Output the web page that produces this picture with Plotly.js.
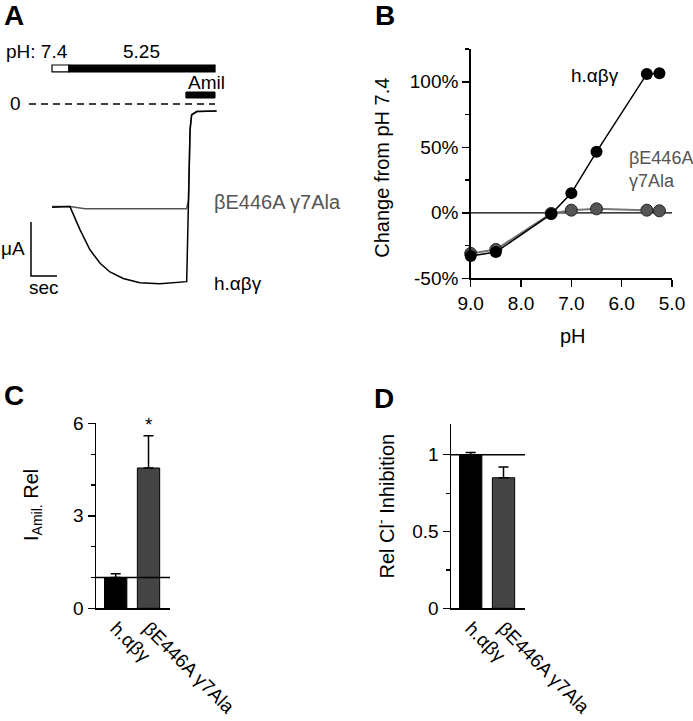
<!DOCTYPE html>
<html><head><meta charset="utf-8">
<script src="https://cdn.plot.ly/plotly-3.0.1.min.js"></script>
<style>html,body{margin:0;padding:0;background:#fff}</style>
</head><body>
<div id="chart" style="width:693px;height:721px"></div>
<script>
// ---------- Panel A: current traces (time in sec, current in µA, 0 = zero-current level)
const wtTime = [0, 0.69, 1.08, 1.46, 1.85, 2.23, 2.74, 3.38, 4.15, 5.18, 5.25, 5.31, 5.37, 5.57, 6.33];
const wtCurrent = [-1.91, -1.90, -2.33, -2.70, -2.95, -3.11, -3.23, -3.31, -3.33, -3.29, -1.78, -0.48, -0.20, -0.14, -0.13];
const mutTime = [0, 0.69, 1.27, 2.62, 5.18, 5.25, 5.31, 5.37, 5.57, 6.33];
const mutCurrent = [-1.90, -1.90, -1.94, -1.94, -1.94, -1.78, -0.48, -0.20, -0.14, -0.13];
const phSwitchTimes = [0, 0.65, 6.27];   // pH 7.4 then pH 5.25
const phLabels = ['pH: 7.4', '5.25'];
const amilWindow = [5.15, 6.27];

// ---------- Panel B: pH dependence
const phValues = [9.0, 8.5, 7.4, 7.0, 6.5, 5.5, 5.25];
const changeWT = [-33, -30, -1, 15, 46.5, 106, 106.5];
const changeMut = [-31, -28, -0.5, 2, 3, 2, 1.5];
const bXTicks = [9, 8, 7, 6, 5];
const bXTickText = ['9.0', '8.0', '7.0', '6.0', '5.0'];
const bYTicks = [-50, 0, 50, 100];
const bYTickText = ['-50%', '0%', '50%', '100%'];

// ---------- Panels C & D: bar charts
const groups = ['h.\u03b1\u03b2\u03b3', '\u03b2E446A \u03b37Ala'];
const iAmilRel = [1.0, 4.55];
const iAmilErr = [0.12, 1.05];
const clInhib = [1.0, 0.85];
const clInhibErr = [0.015, 0.07];
const barColors = ['#000000', '#444444'];
const cYTicks = [0, 3, 6];
const dYTicks = [0, 0.5, 1];
const dYTickText = ['0', '0.5', '1'];

const W = 693, H = 721;
const PX = x => x / W, PY = y => 1 - y / H;
const FONT = 'Liberation Sans, Arial, Helvetica, sans-serif';
const GRAY = '#555555';

const traces = [
  {x: mutTime, y: mutCurrent, xaxis: 'x', yaxis: 'y', mode: 'lines', line: {color: GRAY, width: 1.5}, hoverinfo: 'skip'},
  {x: wtTime, y: wtCurrent, xaxis: 'x', yaxis: 'y', mode: 'lines', line: {color: '#000', width: 1.5}, hoverinfo: 'skip'},
  {x: phValues, y: changeMut, xaxis: 'x2', yaxis: 'y2', mode: 'lines+markers', cliponaxis: false,
   line: {color: '#777', width: 2}, marker: {size: 12, color: GRAY, line: {color: '#222', width: 1}}},
  {x: phValues, y: changeWT, xaxis: 'x2', yaxis: 'y2', mode: 'lines+markers', cliponaxis: false,
   line: {color: '#000', width: 1.5}, marker: {size: 12, color: '#000'}},
  {x: groups, y: iAmilRel, type: 'bar', xaxis: 'x3', yaxis: 'y3', width: 0.68,
   marker: {color: barColors, line: {color: '#000', width: 1}},
   error_y: {type: 'data', array: iAmilErr, arrayminus: [0, 0], symmetric: false, color: '#000', thickness: 1.5, width: 5}},
  {x: groups, y: clInhib, type: 'bar', xaxis: 'x4', yaxis: 'y4', width: 0.68,
   marker: {color: barColors, line: {color: '#000', width: 1}},
   error_y: {type: 'data', array: clInhibErr, arrayminus: [0, 0], symmetric: false, color: '#000', thickness: 1.5, width: 5}}
];

const hidden = {showline: false, showgrid: false, zeroline: false, showticklabels: false, ticks: '', fixedrange: true};
const axBase = {showline: true, linecolor: '#000', linewidth: 1.5, showgrid: false, zeroline: false, fixedrange: true,
  ticks: 'outside', ticklen: 7, tickwidth: 1.5, tickcolor: '#000', tickfont: {family: FONT, size: 19, color: '#000'}};

function note(o) {
  return Object.assign({showarrow: false, xanchor: 'center', yanchor: 'middle'}, o);
}

const layout = {
  width: W, height: H, margin: {l: 0, r: 0, t: 0, b: 0}, showlegend: false,
  paper_bgcolor: '#fff', plot_bgcolor: 'rgba(0,0,0,0)',
  font: {family: FONT, color: '#000'},
  xaxis: Object.assign({}, hidden, {domain: [0, PX(286)], range: [-2, 9]}),
  yaxis: Object.assign({}, hidden, {domain: [PY(320), PY(40)], range: [-4, 1.185]}),
  xaxis2: Object.assign({}, axBase, {domain: [PX(470.7), PX(672)], range: [9, 5], anchor: 'y2',
    tickmode: 'array', tickvals: bXTicks, ticktext: bXTickText}),
  yaxis2: Object.assign({}, axBase, {domain: [PY(278.3), PY(49)], range: [-50, 125], anchor: 'x2',
    tickmode: 'array', tickvals: bYTicks, ticktext: bYTickText,
    minor: {tickmode: 'array', tickvals: [-25, 25, 75, 125], ticks: 'outside', ticklen: 4, tickwidth: 1.2, tickcolor: '#000'}}),
  xaxis3: Object.assign({}, axBase, {domain: [PX(96), PX(170)], type: 'category', categoryorder: 'array', categoryarray: groups,
    range: [-0.6, 1.655], anchor: 'y3', ticks: '', tickangle: 45}),
  yaxis3: Object.assign({}, axBase, {domain: [PY(608.3), PY(423.3)], range: [0, 6], anchor: 'x3',
    tickmode: 'array', tickvals: cYTicks,
    minor: {tickmode: 'array', tickvals: [1, 2, 4, 5], ticks: 'outside', ticklen: 4, tickwidth: 1.2, tickcolor: '#000'}}),
  xaxis4: Object.assign({}, axBase, {domain: [PX(451), PX(525)], type: 'category', categoryorder: 'array', categoryarray: groups,
    range: [-0.6, 1.655], anchor: 'y4', ticks: '', tickangle: 45}),
  yaxis4: Object.assign({}, axBase, {domain: [PY(608.3), PY(424)], range: [0, 1.2], anchor: 'x4',
    tickmode: 'array', tickvals: dYTicks, ticktext: dYTickText,
    minor: {tickmode: 'array', tickvals: [0.25, 0.75], ticks: 'outside', ticklen: 4, tickwidth: 1.2, tickcolor: '#000'}}),
  shapes: [
    // Panel A solution bars
    {type: 'rect', xref: 'x', yref: 'y', x0: phSwitchTimes[0], x1: phSwitchTimes[1], y0: 0.593, y1: 0.722,
     fillcolor: '#fff', line: {color: '#000', width: 1.2}},
    {type: 'rect', xref: 'x', yref: 'y', x0: phSwitchTimes[1], x1: phSwitchTimes[2], y0: 0.593, y1: 0.722,
     fillcolor: '#000', line: {color: '#000', width: 1.2}},
    {type: 'rect', xref: 'x', yref: 'y', x0: amilWindow[0], x1: amilWindow[1], y0: 0.111, y1: 0.222,
     fillcolor: '#000', line: {color: '#000', width: 1}},
    {type: 'line', xref: 'x', yref: 'y', x0: -0.885, x1: phSwitchTimes[2], y0: 0, y1: 0,
     line: {color: '#000', width: 1.5, dash: '7px,5px'}},
    // scale bar
    {type: 'path', xref: 'x', yref: 'y', path: 'M -0.808 -2.185 L -0.808 -3.185 L 0.192 -3.185',
     line: {color: '#000', width: 1.5}},
    // reference lines
    {type: 'line', xref: 'x2 domain', yref: 'y2', x0: 0, x1: 1, y0: 0, y1: 0, line: {color: '#000', width: 1.2}, layer: 'below'},
    {type: 'line', xref: 'x3 domain', yref: 'y3', x0: 0, x1: 1, y0: 1, y1: 1, line: {color: '#000', width: 1.5}},
    {type: 'line', xref: 'x4 domain', yref: 'y4', x0: 0, x1: 1, y0: 1, y1: 1, line: {color: '#000', width: 1.5}}
  ],
  annotations: [
    // panel letters
    note({text: '<b>A</b>', xref: 'paper', yref: 'paper', x: PX(14), y: PY(16), font: {size: 28}}),
    note({text: '<b>B</b>', xref: 'paper', yref: 'paper', x: PX(385), y: PY(16), font: {size: 28}}),
    note({text: '<b>C</b>', xref: 'paper', yref: 'paper', x: PX(14), y: PY(395), font: {size: 28}}),
    note({text: '<b>D</b>', xref: 'paper', yref: 'paper', x: PX(384), y: PY(398), font: {size: 28}}),
    // panel A labels
    note({text: phLabels[0], xref: 'x', yref: 'y', x: -1.85, y: 0.963, xanchor: 'left', font: {size: 19}}),
    note({text: phLabels[1], xref: 'x', yref: 'y', x: 3.46, y: 0.963, font: {size: 19}}),
    note({text: 'Amil', xref: 'x', yref: 'y', x: 5.96, y: 0.407, font: {size: 19}}),
    note({text: '0', xref: 'x', yref: 'y', x: -1.42, y: 0, font: {size: 19}}),
    note({text: '\u03b2E446A \u03b37Ala', xref: 'x', yref: 'y', x: 6.15, y: -1.815, xanchor: 'left', font: {size: 20, color: GRAY}}),
    note({text: 'h.\u03b1\u03b2\u03b3', xref: 'x', yref: 'y', x: 6.15, y: -3.333, xanchor: 'left', font: {size: 19}}),
    note({text: '\u03bcA', xref: 'x', yref: 'y', x: -0.96, y: -2.685, xanchor: 'right', font: {size: 19}}),
    note({text: 'sec', xref: 'x', yref: 'y', x: -0.31, y: -3.389, font: {size: 19}}),
    // panel B labels
    note({text: 'Change from pH 7.4', xref: 'paper', yref: 'paper', x: PX(381.7), y: PY(168), textangle: -90, font: {size: 20}}),
    note({text: 'pH', xref: 'paper', yref: 'paper', x: PX(573), y: PY(336), font: {size: 20}}),
    note({text: 'h.\u03b1\u03b2\u03b3', xref: 'x2', yref: 'y2', x: 6.53, y: 104.4, font: {size: 19}}),
    note({text: '\u03b2E446A<br>\u03b37Ala', xref: 'x2', yref: 'y2', x: 5.9, y: 33, xanchor: 'left', align: 'left', font: {size: 18, color: GRAY}}),
    // panel C labels
    note({text: 'I<sub>Amil.</sub> Rel', xref: 'paper', yref: 'paper', x: PX(32), y: PY(505), textangle: -90, font: {size: 20}}),
    note({text: '*', xref: 'x3', yref: 'y3', x: groups[1], y: 5.95, font: {size: 19}}),
    // panel D labels
    note({text: 'Rel Cl<sup>-</sup> Inhibition', xref: 'paper', yref: 'paper', x: PX(384.5), y: PY(506), textangle: -90, font: {size: 20}})
  ]
};

Plotly.newPlot('chart', traces, layout, {staticPlot: true, displayModeBar: false});
</script>
</body></html>
